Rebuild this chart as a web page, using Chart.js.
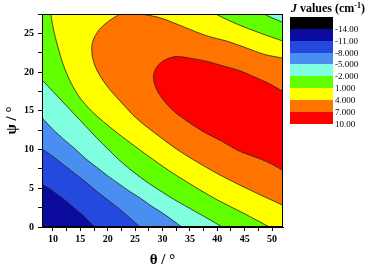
<!DOCTYPE html>
<html>
<head>
<meta charset="utf-8">
<script src="https://cdn.jsdelivr.net/npm/chart.js@4/dist/chart.umd.min.js"></script>
<style>
html, body { margin: 0; padding: 0; background: #fff; }
#wrap { position: relative; width: 367px; height: 269px; }
#c { position: absolute; left: 0; top: 0; }
#ltitle { position: absolute; left: 291px; top: 1px; font: bold 12px 'Liberation Serif', serif; white-space: nowrap; color: #000; }
#ltitle sup { font-size: 8px; vertical-align: 4px; line-height: 0; }
#legend { position: absolute; left: 290px; top: 17px; }
.box { position: absolute; left: 0; width: 43px; }
.lab { position: absolute; left: 45px; font: 9px 'Liberation Serif', serif; line-height: 10px; color: #000; white-space: nowrap; }
</style>
</head>
<body>
<div id="wrap">
  <canvas id="c" width="367" height="269"></canvas>
  <div id="ltitle"><i>J</i> values (cm<sup>-1</sup>)</div>
  <div id="legend"></div>
</div>
<script>
// axis ranges and ticks
var thetaLimits = [8, 52];
var psiLimits = [0, 27.5];
var xTickLabels = [10, 15, 20, 25, 30, 35, 40, 45, 50];
var yTickLabels = [0, 5, 10, 15, 20, 25];

// colour scale (top to bottom of the legend)
var levelLabels = ['-14.00', '-11.00', '-8.000', '-5.000', '-2.000', '1.000', '4.000', '7.000', '10.00'];
var levelColors = ['#000000', '#0b0b9e', '#2449de', '#4b8ef1', '#80ffe0', '#62ff00', '#ffff00', '#ff7400', '#ff0000'];

// contour lines, [theta, psi]
var cM11 = [[8,5.5],[9.5,4.9],[11,4.1],[12.5,3.3],[14,2.4],[15.5,1.5],[17.6,0]];
var cM8 = [[8,10.1],[10,9.1],[12,8.0],[14,6.9],[16,5.8],[18,4.6],[20,3.5],[22,2.4],[24,1.2],[25.9,0]];
var cM5 = [[8,14.1],[10,12.6],[12,11.3],[14,10.1],[16,8.8],[18,7.7],[20,6.6],[22,5.6],[24,4.6],[26,3.7],[28,2.7],[30,1.8],[32,0.8],[33.5,0]];
var cM2 = [[8,19.0],[10,17.5],[12,16.0],[14,14.5],[16,13.0],[18,11.5],[20,10.1],[22,8.7],[24,7.5],[26,6.4],[28,5.4],[30,4.5],[32,3.6],[34,2.8],[36,2.0],[38,1.2],[40.9,0]];
var cM2top = [[48.5,27.5],[50,27.0],[52,26.4]];
var cP1 = [[9.6,27.5],[10.1,25.5],[10.8,23.5],[11.9,20.9],[13.3,18.6],[15,16.6],[17,15.0],[19.2,13.6],[22,12.0],[25,10.4],[28.3,8.7],[32,6.9],[36.8,4.8],[40,3.5],[45,1.7],[49.5,0]];
var cP1top = [[39.7,27.5],[42,26.7],[45,25.8],[48,25.0],[52,24.0]];
var cP4 = [[22.3,27.5],[20.4,26.7],[18.6,25.6],[17.5,24.4],[17.1,23.3],[17.2,22.0],[17.8,20.6],[18.8,19.3],[20.2,17.9],[22.2,16.3],[25.3,14.0],[29.6,11.6],[32.5,10.1],[35.6,8.7],[40,6.9],[45.9,4.8],[52,2.8]];
var cP4top = [[26.2,27.5],[29.6,27.0],[34,25.8],[38,24.7],[41.7,24.0],[45,23.2],[48.5,22.3],[52,21.8]];
var cP7 = [[52,17.5],[49.5,18.5],[47,19.3],[44,20.2],[41,20.8],[38,21.4],[35,21.8],[32.5,22.0],[30.5,21.6],[29.1,20.8],[28.4,19.7],[28.5,18.6],[29.2,17.4],[30.5,16.1],[32,15.0],[34,13.9],[37,12.5],[41,11.0],[44,9.8],[47.8,8.8],[50,8.1],[52,7.3]];

// legend boxes
var legend = document.getElementById('legend');
var boxH = 11.85;
levelColors.forEach(function(col, i) {
  var b = document.createElement('div');
  b.className = 'box';
  b.style.top = (i * boxH) + 'px';
  b.style.height = (boxH + 0.5) + 'px';
  b.style.background = col;
  legend.appendChild(b);
  var l = document.createElement('div');
  l.className = 'lab';
  l.style.top = ((i + 1) * boxH - 5) + 'px';
  l.textContent = levelLabels[i];
  legend.appendChild(l);
});

var x0 = thetaLimits[0], x1 = thetaLimits[1], y0 = psiLimits[0], y1 = psiLimits[1];

function pts(arr) {
  return arr.map(function(p) { return {x: p[0], y: p[1]}; });
}
// points on the frame are doubled so the spline stays straight there
function shapePts(arr) {
  var out = [];
  arr.forEach(function(p) {
    out.push({x: p[0], y: p[1]});
    if (p[0] === x0 || p[0] === x1 || p[1] === y0 || p[1] === y1) out.push({x: p[0], y: p[1]});
  });
  return out;
}

var upperRight = [[x1, y0], [x1, y1], [x0, y1]];

// filled regions, each lies above the previous one
var regions = [
  { color: levelColors[1], shape: [[x0, y0], [x1, y0], [x1, y1], [x0, y1]] },
  { color: levelColors[2], shape: cM11.concat(upperRight) },
  { color: levelColors[3], shape: cM8.concat(upperRight) },
  { color: levelColors[4], shape: cM5.concat(upperRight) },
  { color: levelColors[5], shape: cM2.concat([[x1, y0]], cM2top.slice().reverse(), [[x0, y1]]) },
  { color: levelColors[6], shape: cP1.concat([[x1, y0]], cP1top.slice().reverse()) },
  { color: levelColors[7], shape: cP4.concat(cP4top.slice().reverse()) },
  { color: levelColors[8], shape: cP7 }
];

var TENSION = 0.3;
var datasets = [];
regions.forEach(function(r, i) {
  datasets.push({
    data: shapePts(r.shape),
    showLine: true,
    fill: 'shape',
    backgroundColor: r.color,
    borderWidth: 0,
    pointRadius: 0,
    tension: TENSION,
    order: 20 - i
  });
});
[cM11, cM8, cM5, cM2, cM2top, cP1, cP1top, cP4, cP4top, cP7].forEach(function(c) {
  datasets.push({
    data: pts(c),
    showLine: true,
    fill: false,
    borderColor: '#222',
    borderWidth: 0.8,
    pointRadius: 0,
    tension: TENSION,
    order: 1
  });
});

var frame = {
  id: 'frame',
  afterDatasetsDraw: function(chart) {
    var a = chart.chartArea, ctx = chart.ctx;
    ctx.save();
    ctx.strokeStyle = '#000';
    ctx.lineWidth = 1;
    ctx.strokeRect(a.left + 0.5, a.top + 0.5, a.right - a.left - 1, a.bottom - a.top - 1);
    ctx.restore();
  }
};

var tickFont = { family: "'Liberation Serif', serif", size: 10, weight: 'bold' };
var titleFont = { family: "'Liberation Serif', serif", size: 15, weight: 'bold' };

new Chart(document.getElementById('c'), {
  type: 'scatter',
  data: { datasets: datasets },
  options: {
    responsive: false,
    animation: false,
    devicePixelRatio: 1,
    layout: { padding: { top: 14, right: 84, left: 0, bottom: 0 } },
    plugins: { legend: { display: false }, tooltip: { enabled: false } },
    scales: {
      x: {
        type: 'linear',
        min: x0, max: x1,
        afterFit: function(s) { s.height = 42; },
        ticks: {
          stepSize: 2.5, includeBounds: false, autoSkip: false, maxRotation: 0,
          color: '#000', font: tickFont, padding: 2,
          callback: function(v) { return xTickLabels.indexOf(v) >= 0 ? v : ''; }
        },
        grid: { drawOnChartArea: false, tickLength: 4, tickColor: '#000' },
        border: { color: '#000', width: 1 },
        title: { display: true, text: 'θ / °', color: '#000', font: titleFont, padding: { top: 0, bottom: 0 } }
      },
      y: {
        type: 'linear',
        min: y0, max: y1,
        afterFit: function(s) { s.width = 42; },
        ticks: {
          stepSize: 2.5, includeBounds: false, autoSkip: false,
          color: '#000', font: tickFont, padding: 4,
          callback: function(v) { return yTickLabels.indexOf(v) >= 0 ? v : ''; }
        },
        grid: { drawOnChartArea: false, tickLength: 4, tickColor: '#000' },
        border: { color: '#000', width: 1 },
        title: { display: true, text: 'ψ / °', color: '#000', font: titleFont, padding: { top: 3, bottom: 0 } }
      }
    }
  },
  plugins: [frame]
});
</script>
</body>
</html>
